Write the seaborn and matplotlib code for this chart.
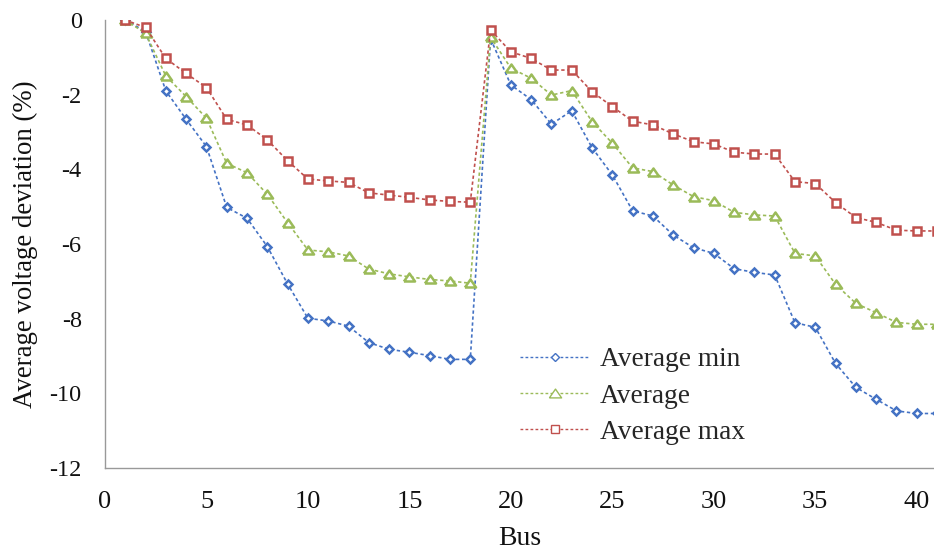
import numpy as np
import pandas as pd
import seaborn as sns
import matplotlib
matplotlib.use("Agg")
import matplotlib.pyplot as plt
from matplotlib.lines import Line2D

# Bus numbers and average voltage deviations (%) per bus
bus = list(range(1, 42))

avg_min = [0.0, -0.31, -1.90, -2.66, -3.39, -5.02, -5.31, -6.07, -7.07, -7.99,
           -8.06, -8.20, -8.64, -8.82, -8.90, -8.99, -9.09, -9.09, -0.50, -1.74,
           -2.13, -2.79, -2.43, -3.42, -4.15, -5.11, -5.25, -5.76, -6.10, -6.25,
           -6.66, -6.76, -6.83, -8.11, -8.23, -9.20, -9.84, -10.16, -10.47, -10.54,
           -10.54]

avg = [0.0, -0.36, -1.50, -2.05, -2.63, -3.84, -4.09, -4.67, -5.43, -6.16,
       -6.21, -6.32, -6.67, -6.80, -6.88, -6.95, -6.99, -7.05, -0.46, -1.29,
       -1.56, -2.01, -1.89, -2.72, -3.30, -3.96, -4.06, -4.42, -4.73, -4.84,
       -5.15, -5.22, -5.25, -6.25, -6.32, -7.08, -7.59, -7.84, -8.10, -8.15,
       -8.15]

avg_max = [0.0, -0.20, -1.03, -1.43, -1.81, -2.66, -2.81, -3.21, -3.77, -4.26,
           -4.31, -4.35, -4.63, -4.69, -4.75, -4.82, -4.86, -4.88, -0.27, -0.85,
           -1.03, -1.34, -1.34, -1.92, -2.32, -2.71, -2.81, -3.05, -3.26, -3.32,
           -3.54, -3.59, -3.59, -4.33, -4.38, -4.89, -5.29, -5.42, -5.63, -5.65,
           -5.65]

series_names = ["Average min", "Average", "Average max"]
colors = ["#4472C4", "#9BBB59", "#C0504D"]

# wide, flat triangle for the mean series
tri = [(-1.0, -0.72), (1.0, -0.72), (0.0, 0.72), (-1.0, -0.72)]
markers = ["D", tri, "s"]
msizes = [4.0, 8.0, 5.4]

df = pd.DataFrame({"Bus": bus * 3,
                   "value": avg_min + avg + avg_max,
                   "series": sum([[n] * len(bus) for n in series_names], [])})

sns.set_style("white")
plt.rcParams["font.family"] = ["Liberation Serif", "DejaVu Serif"]

fig = plt.figure(figsize=(9.34, 5.53), dpi=100)
ax = fig.add_axes([0.1124, 0.1537, 0.8876, 0.8101])

dash = (0, (2.0, 1.6))
for name, c, m, ms in zip(series_names, colors, markers, msizes):
    sub = df[df["series"] == name]
    sns.lineplot(data=sub, x="Bus", y="value", ax=ax, color=c,
                 linewidth=1.2, linestyle=dash, marker=m, markersize=ms,
                 markerfacecolor="white", markeredgecolor=c,
                 markeredgewidth=1.8, legend=False, zorder=3)

ax.set_xlim(0, 40.85)
ax.set_ylim(-12, 0)
ax.set_xticks(np.arange(0, 41, 5))
ax.set_yticks(np.arange(-12, 1, 2))
ax.set_yticklabels([str(v) for v in range(-12, 1, 2)])

for side in ["top", "right"]:
    ax.spines[side].set_visible(False)
for side in ["left", "bottom"]:
    ax.spines[side].set_color("#999999")
    ax.spines[side].set_linewidth(1.0)
ax.tick_params(axis="both", direction="out", length=5.8, width=1.0,
               color="#999999", labelcolor="#111111")
ax.tick_params(axis="y", labelsize=17.5, pad=11)
ax.tick_params(axis="x", labelsize=19, pad=11)

ax.set_xlabel("Bus", fontsize=20, color="#111111", labelpad=9)
ax.set_ylabel("Average voltage deviation (%)", fontsize=19.4, color="#111111",
              labelpad=8)

handles = [Line2D([0], [0], color=c, linewidth=1.0, linestyle=dash, marker=m,
                  markersize=ms * 1.1, markerfacecolor="white",
                  markeredgecolor=c, markeredgewidth=1.0)
           for c, m, ms in zip(colors, markers, msizes)]
ax.legend(handles, series_names, loc="upper left",
          bbox_to_anchor=(520 / 934, (553 - 347) / 553),
          bbox_transform=fig.transFigure, borderaxespad=0, borderpad=0,
          frameon=False, fontsize=19.7, handlelength=2.56,
          handletextpad=0.37, labelspacing=0.41)

fig.savefig("out.png", dpi=100)
